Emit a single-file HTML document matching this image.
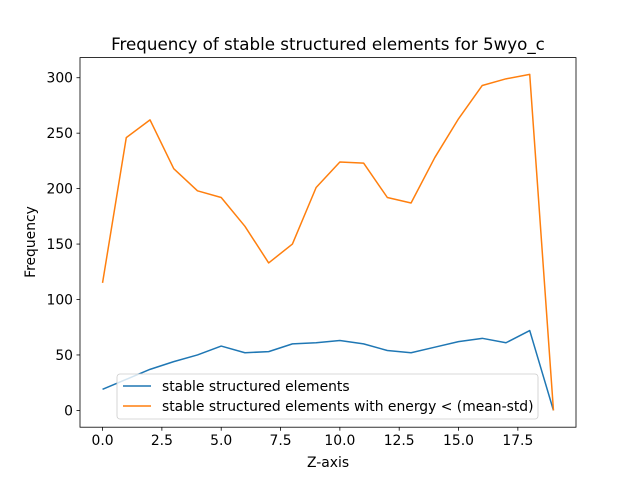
<!DOCTYPE html>
<html><head><meta charset="utf-8"><style>
body{margin:0;background:#fff;}
svg{display:block;font-family:"DejaVu Sans","Liberation Sans",sans-serif;}
</style></head><body>
<svg id="chart" width="640" height="480" xmlns="http://www.w3.org/2000/svg">
<rect width="640" height="480" fill="#fff"/>
<text x="328" y="50" text-anchor="middle" font-size="16.7">Frequency of stable structured elements for 5wyo_c</text>
<g id="ticks"></g>
<g id="series"></g>
<rect x="80" y="57.6" width="496" height="369.6" fill="none" stroke="#000" stroke-width="0.8"/>
<text x="328" y="467" text-anchor="middle" font-size="13.9">Z-axis</text>
<text transform="translate(35,242) rotate(-90)" text-anchor="middle" font-size="13.9">Frequency</text>
<g>
<rect x="117" y="374" width="421" height="45" rx="3" fill="#fff" fill-opacity="0.8" stroke="#ccc" stroke-width="0.8"/>
<line x1="123" y1="386" x2="151" y2="386" stroke="#1f77b4" stroke-width="1.5"/>
<text x="162" y="391" font-size="13.9">stable structured elements</text>
<line x1="123" y1="406" x2="151" y2="406" stroke="#ff7f0e" stroke-width="1.5"/>
<text x="162" y="411" font-size="13.9">stable structured elements with energy &lt; (mean-std)</text>
</g>
</svg>
<script>
const zValues = [0,1,2,3,4,5,6,7,8,9,10,11,12,13,14,15,16,17,18,19];
const stableCounts = [19,28,37,44,50,58,52,53,60,61,63,60,54,52,57,62,65,61,72,0];
const energyCounts = [115,246,262,218,198,192,166,133,150,201,224,223,192,187,228,263,293,299,303,0];
const xTicks = [0,2.5,5,7.5,10,12.5,15,17.5];
const xTickLabels = ["0.0","2.5","5.0","7.5","10.0","12.5","15.0","17.5"];
const yTicks = [0,50,100,150,200,250,300];

const L=80,R=576,T=57.6,B=427.2;
const xmin0=Math.min(...zValues),xmax0=Math.max(...zValues);
const xpad=(xmax0-xmin0)*0.05;
const allY=stableCounts.concat(energyCounts);
const ymin0=Math.min(...allY),ymax0=Math.max(...allY);
const ypad=(ymax0-ymin0)*0.05;
const xs=v=>L+(v-(xmin0-xpad))/((xmax0+xpad)-(xmin0-xpad))*(R-L);
const ys=v=>B-(v-(ymin0-ypad))/((ymax0+ypad)-(ymin0-ypad))*(B-T);
const NS="http://www.w3.org/2000/svg";
const tg=document.getElementById('ticks');
xTicks.forEach((t,i)=>{
  const l=document.createElementNS(NS,'line');
  l.setAttribute('x1',xs(t));l.setAttribute('x2',xs(t));l.setAttribute('y1',B);l.setAttribute('y2',B+3.5);
  l.setAttribute('stroke','#000');l.setAttribute('stroke-width','0.8');
  
  
  tg.appendChild(l);
  const tx=document.createElementNS(NS,'text');
  tx.setAttribute('x',xs(t));tx.setAttribute('y',B+18);tx.setAttribute('text-anchor','middle');tx.setAttribute('font-size','13.9');
  tx.textContent=xTickLabels[i];
  
  
  tg.appendChild(tx);
});
yTicks.forEach(t=>{
  const l=document.createElementNS(NS,'line');
  l.setAttribute('x1',L-3.5);l.setAttribute('x2',L);l.setAttribute('y1',ys(t));l.setAttribute('y2',ys(t));
  l.setAttribute('stroke','#000');l.setAttribute('stroke-width','0.8');
  
  
  tg.appendChild(l);
  const tx=document.createElementNS(NS,'text');
  tx.setAttribute('x',L-7);tx.setAttribute('y',ys(t)+5);tx.setAttribute('text-anchor','end');tx.setAttribute('font-size','13.9');
  tx.textContent=String(t);
  
  
  tg.appendChild(tx);
});
const sg=document.getElementById('series');
function drawLine(vals,color,name){
  const p=document.createElementNS(NS,'polyline');
  p.setAttribute('points',vals.map((v,i)=>xs(zValues[i])+','+ys(v)).join(' '));
  p.setAttribute('fill','none');p.setAttribute('stroke',color);p.setAttribute('stroke-width','1.5');
  p.setAttribute('stroke-linejoin','round');
  
  
  sg.appendChild(p);
}
drawLine(stableCounts,'#1f77b4','stable-elements-line');
drawLine(energyCounts,'#ff7f0e','low-energy-elements-line');
</script>
</body></html>
